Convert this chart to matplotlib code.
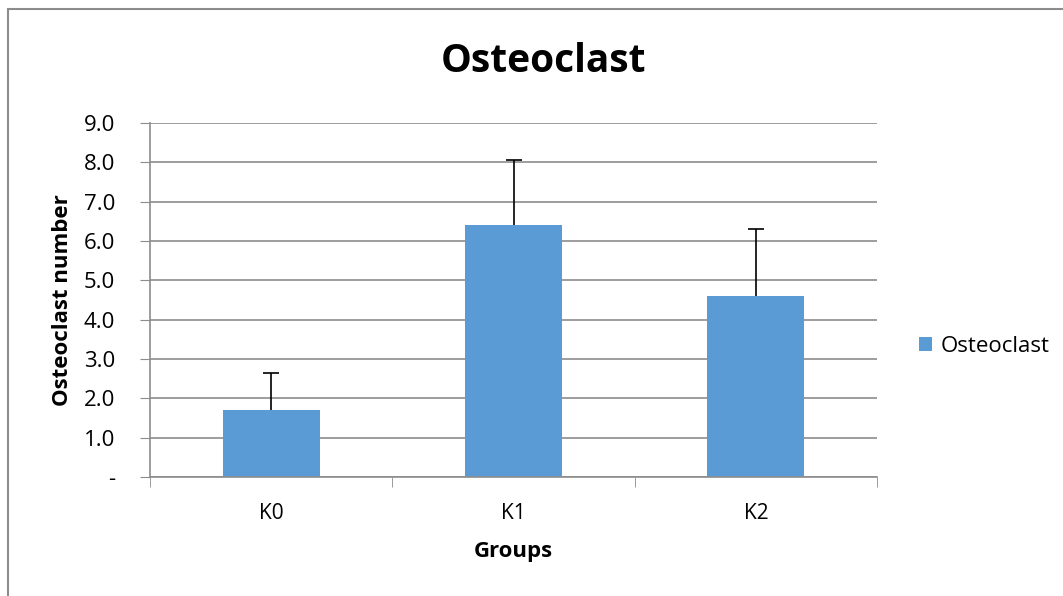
import numpy as np
import matplotlib.pyplot as plt
from matplotlib.patches import Rectangle

# datos
groups = ['K0', 'K1', 'K2']
osteoclast = [1.7, 6.4, 4.6]
osteoclast_err = [0.95, 1.65, 1.7]
yticks = [0, 1, 2, 3, 4, 5, 6, 7, 8, 9]
ytick_labels = ['-', '1.0', '2.0', '3.0', '4.0', '5.0', '6.0', '7.0', '8.0', '9.0']

plt.rcParams['font.family'] = ['Open Sans', 'DejaVu Sans']

W, H = 1063, 596
fig = plt.figure(figsize=(W / 100, H / 100), dpi=100)
fig.patch.set_facecolor('white')

# marco exterior del area del grafico
fig.patches.append(Rectangle((8 / W, -0.1), 1.2, (H - 9) / H + 0.1, transform=fig.transFigure,
                             fill=False, edgecolor='#8c8c8c', linewidth=1.5))

ax = fig.add_axes([150 / W, 1 - 477 / H, (877 - 150) / W, (477 - 123) / H])

x = np.arange(len(groups))
grey = '#8c8c8c'
ax.bar(x, osteoclast, width=0.4, color='#5b9bd5', label='Osteoclast', zorder=2)
eb = ax.errorbar(x, osteoclast, yerr=[np.zeros(len(x)), osteoclast_err], fmt='none',
                 ecolor='black', elinewidth=1.2, capsize=6, capthick=1.2, zorder=3)
eb[1][0].set_visible(False)  # sin tope inferior

ax.set_xlim(-0.5, len(groups) - 0.5)
ax.set_ylim(0, 9)
ax.set_yticks(yticks)
ax.set_yticklabels(ytick_labels)
ax.set_xticks(x)
ax.set_xticklabels(groups)
ax.set_xticks(np.arange(len(groups) + 1) - 0.5, minor=True)
ax.tick_params(axis='x', which='major', length=0, labelsize=15, pad=19)
ax.tick_params(axis='x', which='minor', length=7, color=grey, direction='out')
ax.tick_params(axis='y', length=7, color=grey, labelsize=16, pad=18)

ax.grid(axis='y', color=grey, linewidth=1.2, zorder=0)
ax.set_axisbelow(True)
for s in ['top', 'right']:
    ax.spines[s].set_visible(False)
for s in ['left', 'bottom']:
    ax.spines[s].set_color(grey)
    ax.spines[s].set_linewidth(1.2)

fig.text(543 / W, 1 - 62 / H, 'Osteoclast', fontsize=28, fontweight='bold',
         ha='center', va='center')
ax.set_xlabel('Groups', fontsize=16, fontweight='bold', labelpad=12)
ax.set_ylabel('Osteoclast number', fontsize=16, fontweight='bold', labelpad=8)

ax.legend(loc='center left', bbox_to_anchor=(1.03, 0.37), frameon=False, fontsize=16,
          handlelength=0.6, handleheight=0.6, handletextpad=0.4)

fig.savefig('out.png', dpi=100, facecolor='white')
